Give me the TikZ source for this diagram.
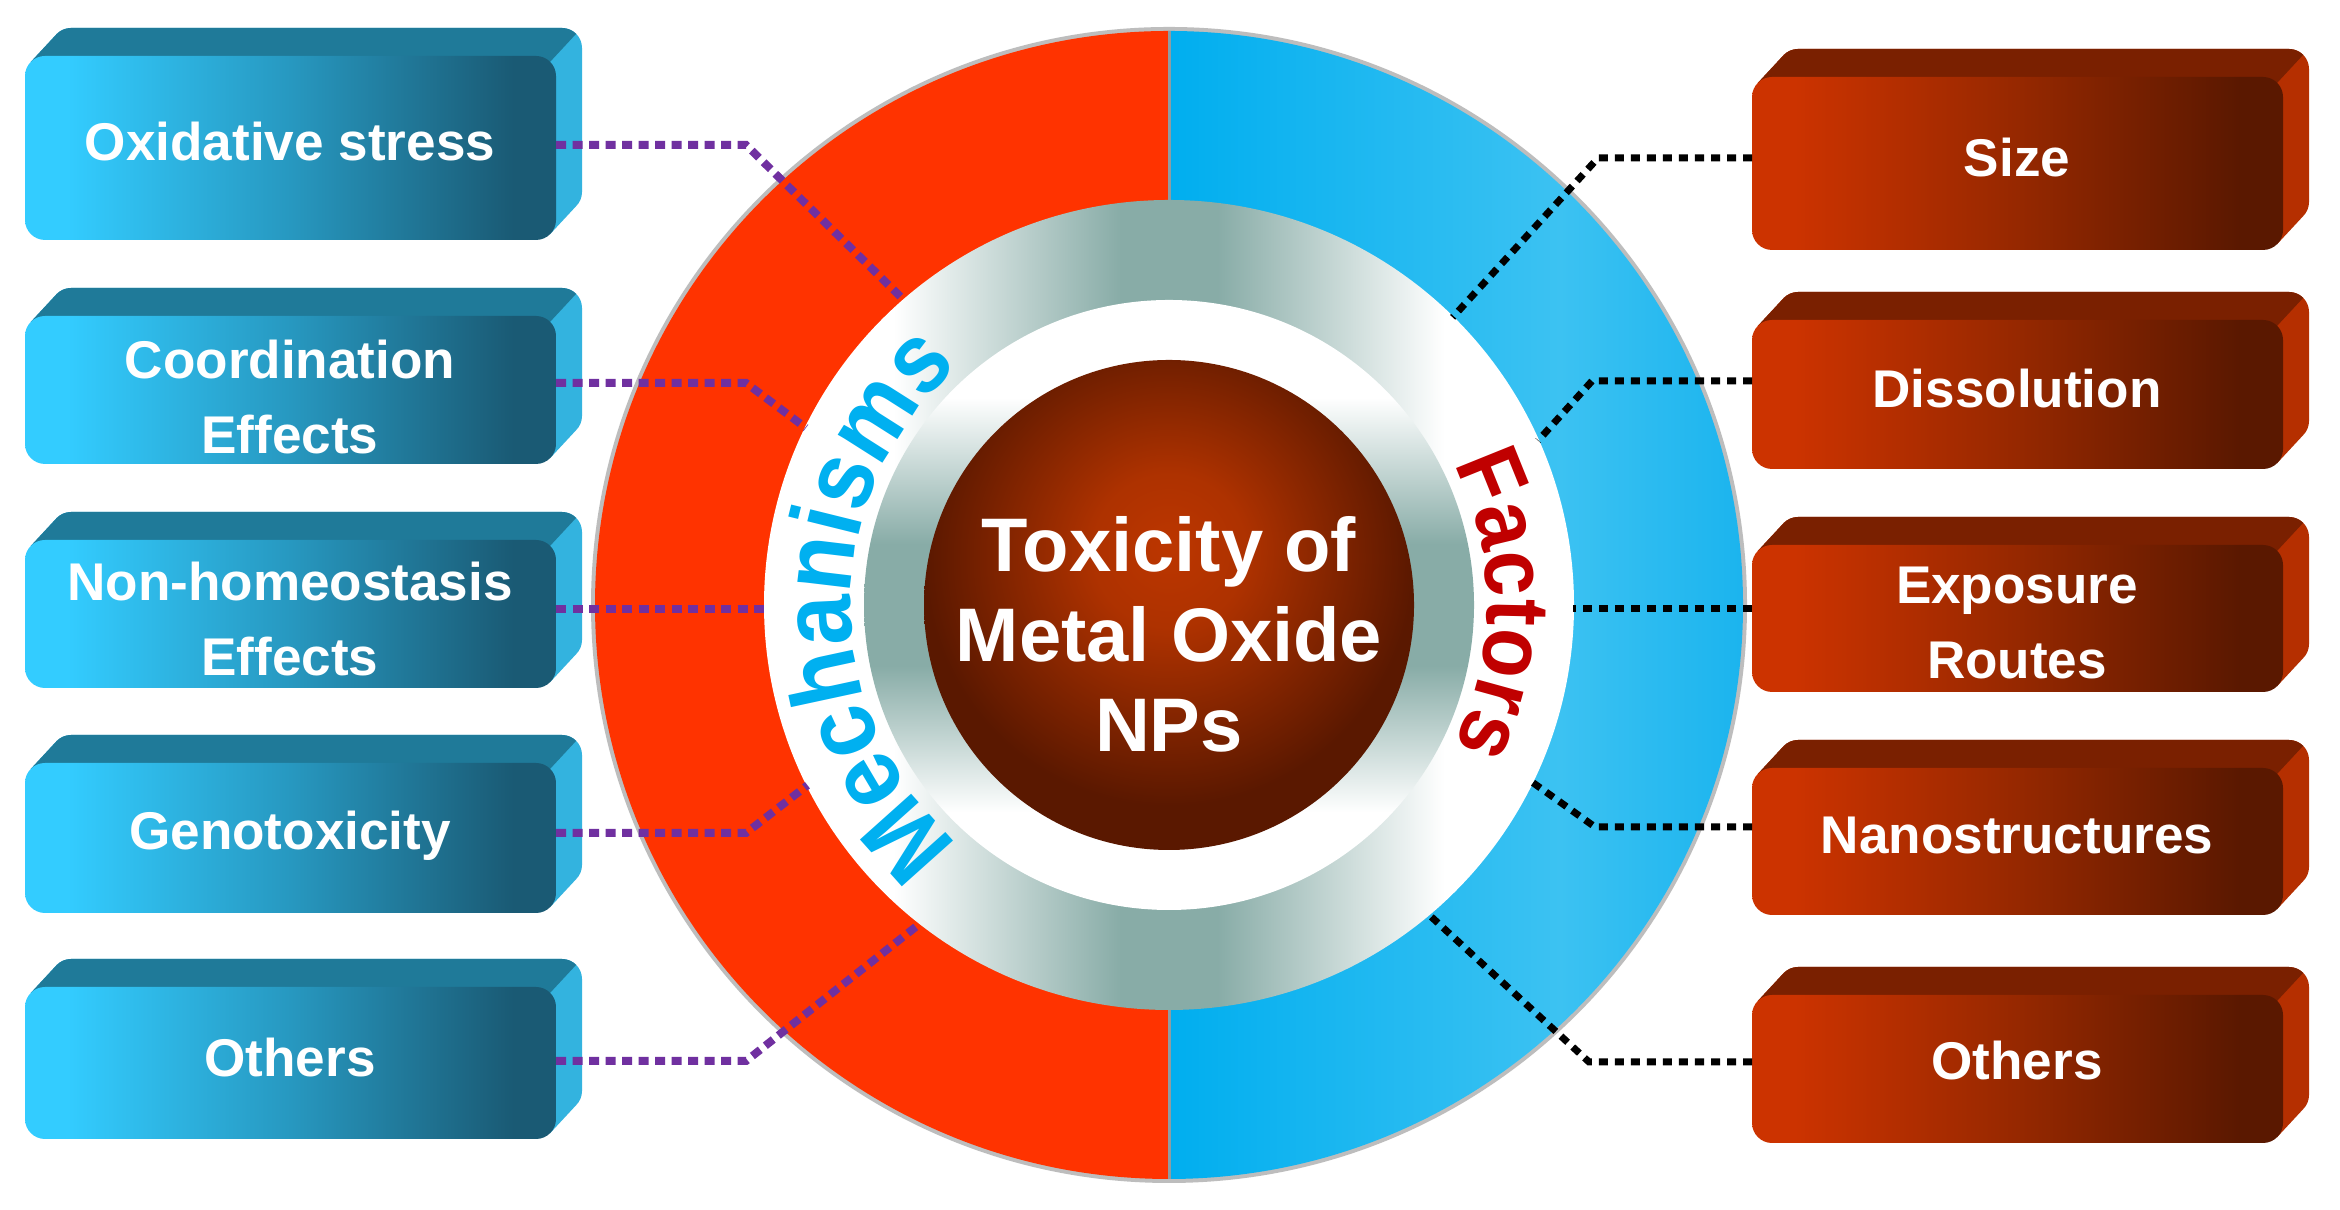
\documentclass[tikz,border=0pt]{standalone}
\usepackage{fontspec}
\setmainfont{Liberation Sans}
\newfontfamily\curvefont[FakeStretch=0.9]{Liberation Sans}
\usetikzlibrary{calc,decorations.text}

\definecolor{ringred}{HTML}{FF3300}
\definecolor{ringblue}{HTML}{00AEEF}
\definecolor{ringblueL}{HTML}{3CC2F2}
\definecolor{ringblueR}{HTML}{1BB4EE}
\definecolor{rimgray}{HTML}{BDBDBD}
\definecolor{metal}{HTML}{88ACA7}
\definecolor{brownC}{HTML}{BC3600}
\definecolor{brownE}{HTML}{5A1800}
\definecolor{mechblue}{HTML}{00B0F0}
\definecolor{factred}{HTML}{C00000}
\definecolor{cyanL}{HTML}{33CCFF}
\definecolor{cyanM}{HTML}{2798C0}
\definecolor{cyanD}{HTML}{1A5A74}
\definecolor{cyanTop}{HTML}{1F7A99}
\definecolor{cyanSide}{HTML}{33B3DF}
\definecolor{rustL}{HTML}{CC3300}
\definecolor{rustM}{HTML}{962800}
\definecolor{rustD}{HTML}{5A1800}
\definecolor{rustTop}{HTML}{7A2000}
\definecolor{rustSide}{HTML}{B52F00}
\definecolor{purpleline}{HTML}{7030A0}
\definecolor{sepgray}{HTML}{8E9CA2}

\pgfdeclarehorizontalshading{metalH}{100bp}{color(0bp)=(white); color(33bp)=(white); color(47bp)=(metal); color(53bp)=(metal); color(67bp)=(white); color(100bp)=(white)}
\pgfdeclareverticalshading{metalV}{100bp}{color(0bp)=(white); color(33bp)=(white); color(45bp)=(metal); color(55bp)=(metal); color(67bp)=(white); color(100bp)=(white)}
\pgfdeclareradialshading{brownball}{\pgfpoint{0bp}{6bp}}{color(0bp)=(brownC); color(8bp)=(brownC!85!brownE); color(25bp)=(brownE); color(100bp)=(brownE)}
\pgfdeclarehorizontalshading{blueHalf}{100bp}{color(0bp)=(ringblue); color(25bp)=(ringblue); color(59bp)=(ringblueL); color(75bp)=(ringblueR); color(100bp)=(ringblueR)}
\pgfdeclarehorizontalshading{frontBlue}{100bp}{color(0bp)=(cyanL); color(29bp)=(cyanL); color(50bp)=(cyanM); color(71bp)=(cyanD); color(100bp)=(cyanD)}
\pgfdeclarehorizontalshading{frontRust}{100bp}{color(0bp)=(rustL); color(29bp)=(rustL); color(50bp)=(rustM); color(71bp)=(rustD); color(100bp)=(rustD)}

\tikzset{
  blueside/.style={fill=cyanSide},
  bluetop/.style={fill=cyanTop},
  bluefront/.style={shading=frontBlue},
  rustside/.style={fill=rustSide},
  rusttop/.style={fill=rustTop},
  rustfront/.style={shading=frontRust},
  boxtext/.style={text=white, align=center, inner sep=0pt, text depth=0pt,
    font=\bfseries\fontsize{15.1pt}{21.3pt}\selectfont},
  coretext/.style={text=white, align=center, inner sep=0pt,
    font=\bfseries\fontsize{21.6pt}{25.6pt}\selectfont},
  mechline/.style={draw=purpleline, line width=0.08cm, dash pattern=on 0.1cm off 0.065cm},
  factline/.style={draw=black, line width=0.07cm, dash pattern=on 0.09cm off 0.07cm},
  sepline/.style={draw=sepgray, line width=0.03cm}
}

% #1 x1, #2 ybottom, #3 x2, #4 ytop, #5 colour set
\newcommand{\cubebox}[5]{%
  \fill[#5side] ({#1+5.86},{#4-5.86}) -- ({#1+31.86},{#4+22.14})
    arc[start angle=135,end angle=90,radius=20] -- ({#3+6},{#4+28})
    arc[start angle=90,end angle=0,radius=20] -- ({#3+26},{#2+48})
    arc[start angle=0,end angle=-45,radius=20] -- ({#3-5.86},{#2+5.86})
    -- ({#3-20},{#4-20}) -- ({#1+20},{#4-20}) -- cycle;
  \fill[#5top] ({#1+5.86},{#4-5.86}) -- ({#1+31.86},{#4+22.14})
    arc[start angle=135,end angle=90,radius=20] -- ({#3+6},{#4+28})
    arc[start angle=90,end angle=45,radius=20] -- ({#3-5.86},{#4-5.86}) -- cycle;
  \shade[#5front, rounded corners=0.2cm] (#1,#2) rectangle (#3,#4);
}

\begin{document}
\begin{tikzpicture}[x=0.01cm,y=0.01cm]
\useasboundingbox (0,0) rectangle (2340,1210);
\fill[white] (0,0) rectangle (2340,1210);
\coordinate (C) at (1169,605);

% ---- central disc ----
\fill[rimgray] (C) circle[radius=578];
\fill[ringred] ($(C)+(0,574)$) arc[start angle=90,end angle=270,radius=574] -- cycle;
\shade[shading=blueHalf] ($(C)+(0,-574)$) arc[start angle=-90,end angle=90,radius=574] -- cycle;
\draw[sepline] ($(C)+(0,404)$) -- ($(C)+(0,574)$);
\draw[sepline] ($(C)+(0,-404)$) -- ($(C)+(0,-574)$);
\shade[shading=metalH] (C) circle[radius=405];
\shade[shading=metalV] (C) circle[radius=305];
\shade[shading=brownball] (C) circle[radius=245];

\path[decorate, decoration={text along path, text color=mechblue, text align=center,
  text={|\curvefont\bfseries\fontsize{28.4pt}{30pt}\selectfont|Mechanisms}}]
  ($(C)+(260:318)$) arc[start angle=260,end angle=100,radius=318];
\path[decorate, decoration={text along path, text color=factred, text align=center,
  text={|\curvefont\bfseries\fontsize{25.6pt}{28pt}\selectfont|Factors}}]
  ($(C)+(80:318)$) arc[start angle=80,end angle=-80,radius=318];

\node[coretext] (core) at (1169,576) {Toxicity of\\Metal Oxide\\NPs};

% ---- left boxes ----
\cubebox{25}{970}{556}{1154}{blue}
\node[boxtext] (mech1) at (290,1069) {Oxidative stress};
\cubebox{25}{746}{556}{894}{blue}
\node[boxtext] (mech2) at (290,813) {Coordination\\Effects};
\cubebox{25}{522}{556}{670}{blue}
\node[boxtext] (mech3) at (290,591) {Non-homeostasis\\Effects};
\cubebox{25}{297}{556}{447}{blue}
\node[boxtext] (mech4) at (290,380) {Genotoxicity};
\cubebox{25}{71}{556}{223}{blue}
\node[boxtext] (mech5) at (290,153) {Others};

% ---- right boxes ----
\cubebox{1752}{960}{2283}{1133}{rust}
\node[boxtext] (fac1) at (2017,1053) {Size};
\cubebox{1752}{741}{2283}{890}{rust}
\node[boxtext] (fac2) at (2017,822) {Dissolution};
\cubebox{1752}{518}{2283}{665}{rust}
\node[boxtext] (fac3) at (2017,587) {Exposure\\Routes};
\cubebox{1752}{295}{2283}{442}{rust}
\node[boxtext] (fac4) at (2017,375) {Nanostructures};
\cubebox{1752}{67}{2283}{215}{rust}
\node[boxtext] (fac5) at (2017,150) {Others};

% ---- connector points ----
\coordinate (m1s) at (556,1065); \coordinate (m1b) at (746,1065); \coordinate (m1e) at ($(C)+(131:404)$);
\coordinate (m2s) at (556,827);  \coordinate (m2b) at (746,827);  \coordinate (m2e) at ($(C)+(154:404)$);
\coordinate (m3s) at (556,601);  \coordinate (m3e) at (765,601);
\coordinate (m4s) at (556,377);  \coordinate (m4b) at (746,377);  \coordinate (m4e) at ($(C)+(206.5:404)$);
\coordinate (m5s) at (556,149);  \coordinate (m5b) at (746,149);  \coordinate (m5e) at ($(C)+(232:404)$);

\coordinate (f1s) at (1752,1052); \coordinate (f1b) at (1598,1052); \coordinate (f1e) at ($(C)+(45.4:404)$);
\coordinate (f2s) at (1752,829);  \coordinate (f2b) at (1592,829);  \coordinate (f2e) at ($(C)+(24:404)$);
\coordinate (f3s) at (1752,601);  \coordinate (f3e) at (1573,601);
\coordinate (f4s) at (1752,383);  \coordinate (f4b) at (1595,383);  \coordinate (f4e) at ($(C)+(-26:404)$);
\coordinate (f5s) at (1752,148);  \coordinate (f5b) at (1589,148);  \coordinate (f5e) at ($(C)+(-50:404)$);

\draw[mechline] (m1s) -- (m1b) -- (m1e);
\draw[mechline] (m2s) -- (m2b) -- (m2e);
\draw[mechline] (m3s) -- (m3e);
\draw[mechline] (m4s) -- (m4b) -- (m4e);
\draw[mechline] (m5s) -- (m5b) -- (m5e);

\draw[factline] (f1s) -- (f1b) -- (f1e);
\draw[factline] (f2s) -- (f2b) -- (f2e);
\draw[factline] (f3s) -- (f3e);
\draw[factline] (f4s) -- (f4b) -- (f4e);
\draw[factline] (f5s) -- (f5b) -- (f5e);
\end{tikzpicture}
\end{document}
